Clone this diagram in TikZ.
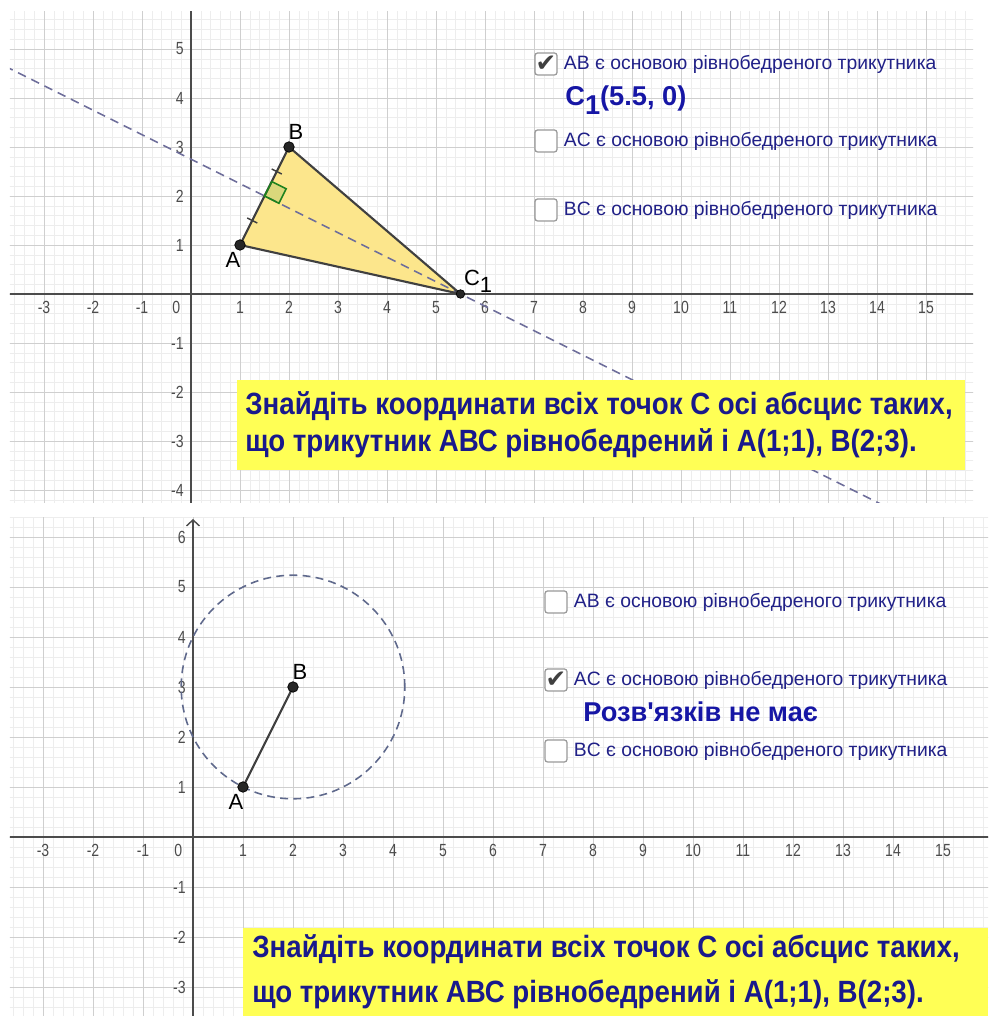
\documentclass[tikz,border=0pt]{standalone}
\usepackage{fontspec}
\newfontfamily\ggfont{Liberation Sans}
\newfontfamily\ggnarrow[FakeStretch=0.8]{Liberation Sans}
\newfontfamily\tasknarrow[FakeStretch=0.9]{Liberation Sans}
\newfontfamily\symbfont{DejaVu Sans}
\usetikzlibrary{arrows.meta,positioning,calc}
\definecolor{ggblue}{RGB}{32,32,135}
\definecolor{ansblue}{RGB}{22,22,165}
\definecolor{taskblue}{RGB}{25,25,140}
\definecolor{taskyellow}{RGB}{255,255,85}
\definecolor{trifill}{RGB}{252,230,140}
\definecolor{dashblue}{RGB}{110,110,155}
\definecolor{circblue}{RGB}{95,105,140}
\definecolor{rightgreen}{RGB}{30,130,30}
\newcommand{\lowidx}[1]{\raisebox{-0.6ex}{#1}}

\begin{document}
\begin{tikzpicture}[
  font=\ggfont,
  minorgrid/.style={draw=black!7, line width=0.3pt},
  majorgrid/.style={draw=black!19, line width=0.5pt},
  axisline/.style={draw=black!70, line width=0.8pt},
  xlab/.style={inner sep=1pt, text=black!70, font=\ggnarrow\fontsize{10}{11}\selectfont},
  dot/.style={circle, fill=black!85, draw=black, inner sep=0pt, minimum size=2.1mm},
  ptname/.style={inner sep=1pt, font=\ggfont\fontsize{12.5}{14}\selectfont},
  side/.style={draw=black!75, line width=1.2pt, line join=round},
  bisector/.style={draw=dashblue, line width=0.9pt, dash pattern=on 5pt off 3.4pt},
  locus/.style={draw=circblue, line width=0.9pt, dash pattern=on 4.5pt off 3pt},
  cbox/.style={draw=black!40, fill=white, rounded corners=1.5pt, minimum size=4.4mm, inner sep=0pt, line width=0.7pt},
  checkmark/.style={font=\symbfont\fontsize{14}{14}\selectfont, text=black!75, inner sep=0pt},
  cbtext/.style={anchor=west, inner sep=0pt, text=ggblue, font=\ggfont\fontsize{11}{13}\selectfont},
  answer/.style={anchor=west, inner sep=0pt, text=ansblue, font=\ggfont\bfseries\fontsize{15.5}{18}\selectfont},
  taskbox/.style={fill=taskyellow, inner sep=0pt, anchor=south west},
  tasktext/.style={anchor=west, inner sep=0pt, align=left, text=taskblue, font=\tasknarrow\bfseries\fontsize{17.5}{21}\selectfont}
]
\useasboundingbox (0,0) rectangle (19.76,20.32);

% upper panel: AB as base
\begin{scope}[shift={(3.82,14.44)}, scale=0.98]
  \clip (-3.694,-4.265) rectangle (15.959,5.755);
  \draw[minorgrid, step=0.2] (-4,-5) grid (16.2,6);
  \draw[majorgrid, step=1] (-4,-5) grid (16.2,6);
  \draw[axisline] (-4,0) -- (16.2,0);
  \draw[axisline] (0,-5) -- (0,6);
  \foreach \x in {-3,-2,-1,1,2,...,15}
    \node[xlab, below=3pt] at (\x,0) {\x};
  \foreach \y in {-4,-3,-2,-1,1,2,...,5}
    \node[xlab, left=3pt] at (0,\y) {\y};
  \node[xlab, below left=3pt and 5pt] at (0,0) {0};

  \coordinate (A) at (1,1);
  \coordinate (B) at (2,3);
  \coordinate (C1) at (5.5,0);
  \coordinate (M) at ($(A)!0.5!(B)$);
  \coordinate (L1) at (-3.8,4.65);
  \coordinate (L2) at (16,-5.25);

  \fill[trifill] (A) -- (B) -- (C1) -- cycle;
  \draw[bisector] (L1) -- (L2);
  \draw[side] (A) -- (B) -- (C1) -- cycle;
  \draw[rightgreen, fill=rightgreen, fill opacity=0.15, line width=0.9pt]
    (M) -- ++(0.148,0.295) -- ++(0.295,-0.148) -- ++(-0.148,-0.295) -- cycle;
  \foreach \t in {0.25,0.75}
    \draw[side, line width=0.8pt] ($(A)!\t!(B)!3.3pt!90:(B)$) -- ($(A)!\t!(B)!3.3pt!-90:(B)$);

  \node[dot] (pA) at (A) {};
  \node[dot] (pB) at (B) {};
  \node[dot, minimum size=1.7mm] (pC) at (C1) {};
  \node[ptname, below=0pt of pA, xshift=-4pt] (nA) {A};
  \node[ptname, above=0pt of pB, xshift=4pt] (nB) {B};
  \node[ptname, above right=-2pt and -1pt of pC] (nC) {C\lowidx{1}};
\end{scope}

% lower panel: AC as base
\begin{scope}[shift={(3.86,3.58)}]
  \clip (-3.66,-3.58) rectangle (15.9,6.38);
  \draw[minorgrid, step=0.2] (-4,-4) grid (16,7);
  \draw[majorgrid, step=1] (-4,-4) grid (16,7);
  \draw[axisline] (-4,0) -- (16,0);
  \draw[axisline, -{Straight Barb[length=1.2mm, width=2.6mm]}] (0,-4) -- (0,6.36);
  \foreach \x in {-3,-2,-1,1,2,...,15}
    \node[xlab, below=3pt] at (\x,0) {\x};
  \foreach \y in {-3,-2,-1,1,2,...,6}
    \node[xlab, left=3pt] at (0,\y) {\y};
  \node[xlab, below left=3pt and 5pt] at (0,0) {0};

  \coordinate (A) at (1,1);
  \coordinate (B) at (2,3);

  \draw[locus] (B) circle ({sqrt(5)});
  \draw[side] (A) -- (B);
  \node[dot] (qA) at (A) {};
  \node[dot] (qB) at (B) {};
  \node[ptname, below=0pt of qA, xshift=-4pt] (mA) {A};
  \node[ptname, above=0pt of qB, xshift=4pt] (mB) {B};
\end{scope}

\node[taskbox, minimum width=14.56cm, minimum height=1.8cm] (task1) at (4.74,10.92) {};
\node[tasktext] (q1) at ([xshift=0.16cm]task1.west)
  {Знайдіть координати всіх точок С осі абсцис таких,\\що трикутник АВС рівнобедрений і А(1;1), В(2;3).};
\node[taskbox, minimum width=14.9cm, minimum height=1.76cm] (task2) at (4.86,0) {};
\node[tasktext, font=\tasknarrow\bfseries\fontsize{17.5}{25.5}\selectfont] (q2) at ([xshift=0.18cm]task2.west)
  {Знайдіть координати всіх точок С осі абсцис таких,\\що трикутник АВС рівнобедрений і А(1;1), В(2;3).};

\node[cbox] (cb1) at (10.92,19.04) {};
\node[checkmark] at (cb1) {✔};
\node[cbtext, right=0.12cm of cb1] (t1) {AB є основою рівнобедреного трикутника};
\node[answer] (ans1) at (11.30,18.32) {C\lowidx{1}(5.5, 0)};
\node[cbox] (cb2) at (10.92,17.50) {};
\node[cbtext, right=0.12cm of cb2] (t2) {AC є основою рівнобедреного трикутника};
\node[cbox] (cb3) at (10.92,16.12) {};
\node[cbtext, right=0.12cm of cb3] (t3) {BC є основою рівнобедреного трикутника};

\node[cbox] (cb4) at (11.12,8.28) {};
\node[cbtext, right=0.12cm of cb4] (t4) {AB є основою рівнобедреного трикутника};
\node[cbox] (cb5) at (11.12,6.72) {};
\node[checkmark] at (cb5) {✔};
\node[cbtext, right=0.12cm of cb5] (t5) {AC є основою рівнобедреного трикутника};
\node[answer] (ans2) at (11.66,6.08) {Розв'язків не має};
\node[cbox] (cb6) at (11.12,5.30) {};
\node[cbtext, right=0.12cm of cb6] (t6) {BC є основою рівнобедреного трикутника};
\end{tikzpicture}
\end{document}
